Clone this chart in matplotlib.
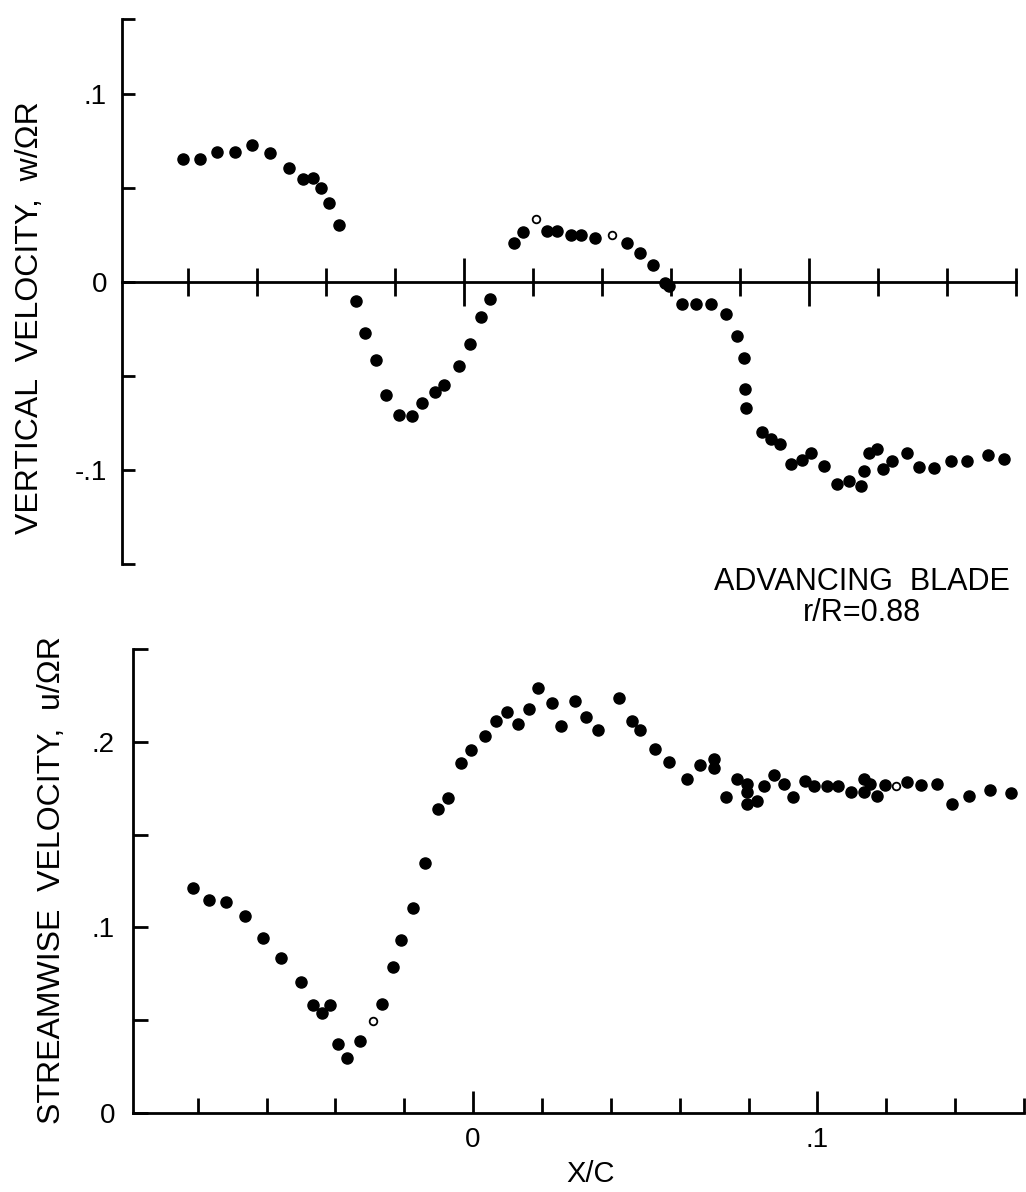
import numpy as np
import matplotlib.pyplot as plt

# vertical velocity w/OmegaR vs X/C (top panel)
w_x = [-0.0814, -0.0765, -0.0716, -0.0664, -0.0613, -0.0561, -0.0507, -0.0468, -0.0439, -0.0414,
       -0.0390, -0.0361, -0.0313, -0.0288, -0.0255, -0.0226, -0.0188, -0.0151, -0.0122, -0.0085,
       -0.0058, -0.0014, 0.0017, 0.0050, 0.0075, 0.0145, 0.0172,
       0.0241, 0.0270, 0.0309, 0.0339, 0.0379,
       0.0472, 0.0510, 0.0548, 0.0582, 0.0594,
       0.0633, 0.0673, 0.0716, 0.0758, 0.0791,
       0.0812, 0.0814, 0.0817,
       0.0864, 0.0889, 0.0916, 0.0947, 0.0981, 0.1007, 0.1042, 0.1081, 0.1116, 0.1151,
       0.1158, 0.1175, 0.1198, 0.1215, 0.1240, 0.1285, 0.1318, 0.1361, 0.1411, 0.1457,
       0.1520, 0.1566]
w_y = [0.0655, 0.0652, 0.0690, 0.0694, 0.0731, 0.0689, 0.0604, 0.0549, 0.0556, 0.0498,
       0.0422, 0.0301, -0.0103, -0.0272, -0.0417, -0.0600, -0.0706, -0.0711, -0.0641, -0.0584,
       -0.0550, -0.0445, -0.0330, -0.0188, -0.0089, 0.0207, 0.0265,
       0.0274, 0.0272, 0.0251, 0.0250, 0.0234,
       0.0208, 0.0153, 0.0090, -0.0005, -0.0022,
       -0.0116, -0.0118, -0.0119, -0.0170, -0.0285,
       -0.0403, -0.0570, -0.0669,
       -0.0797, -0.0834, -0.0862, -0.0966, -0.0944, -0.0911, -0.0976, -0.1073, -0.1058, -0.1086,
       -0.1006, -0.0911, -0.0886, -0.0992, -0.0952, -0.0908, -0.0982, -0.0988, -0.0950, -0.0954,
       -0.0918, -0.0941]
w_open_x = [0.0209, 0.0428]
w_open_y = [0.0336, 0.0248]

# streamwise velocity u/OmegaR vs X/C (bottom panel)
u_x = [-0.0813, -0.0767, -0.0717, -0.0664, -0.0611, -0.0557, -0.0501, -0.0464, -0.0440, -0.0415,
       -0.0392, -0.0366, -0.0330, -0.0266, -0.0234, -0.0209, -0.0175, -0.0140, -0.0103, -0.0072,
       -0.0035, -0.0007, 0.0034, 0.0067, 0.0099, 0.0129, 0.0161, 0.0188, 0.0228, 0.0256,
       0.0296, 0.0328, 0.0363, 0.0423, 0.0462, 0.0486, 0.0528, 0.0570, 0.0622, 0.0658,
       0.0701, 0.0699, 0.0735, 0.0767, 0.0795, 0.0795, 0.0795, 0.0826, 0.0846, 0.0874,
       0.0904, 0.0930, 0.0964, 0.0991, 0.1027, 0.1061, 0.1098, 0.1136, 0.1136, 0.1153,
       0.1172, 0.1196, 0.1259, 0.1301, 0.1346, 0.1390, 0.1440, 0.1501, 0.1563]
u_y = [0.1214, 0.1149, 0.1135, 0.1063, 0.0940, 0.0834, 0.0703, 0.0584, 0.0540, 0.0584,
       0.0373, 0.0295, 0.0388, 0.0585, 0.0789, 0.0934, 0.1104, 0.1345, 0.1640, 0.1696,
       0.1886, 0.1954, 0.2030, 0.2110, 0.2160, 0.2096, 0.2176, 0.2288, 0.2206, 0.2087,
       0.2222, 0.2132, 0.2064, 0.2237, 0.2110, 0.2062, 0.1963, 0.1890, 0.1800, 0.1872,
       0.1906, 0.1856, 0.1700, 0.1800, 0.1772, 0.1731, 0.1665, 0.1682, 0.1762, 0.1820,
       0.1771, 0.1703, 0.1789, 0.1762, 0.1760, 0.1760, 0.1728, 0.1801, 0.1727, 0.1772,
       0.1708, 0.1765, 0.1781, 0.1766, 0.1772, 0.1663, 0.1706, 0.1741, 0.1723]
u_open_x = [-0.0290, 0.1227]
u_open_y = [0.0494, 0.1761]

x_major = [0, 0.1]
x_minor = [-0.08, -0.06, -0.04, -0.02, 0.02, 0.04, 0.06, 0.08, 0.12, 0.14, 0.16]
x_major_labels = ['0', '.1']

w_ticks = [-0.1, 0, 0.1]
w_tick_labels = ['-.1', '0', '.1']
w_minor = [-0.15, -0.05, 0.05, 0.14]

u_ticks = [0, 0.1, 0.2]
u_tick_labels = ['0', '.1', '.2']
u_minor = [0.05, 0.15, 0.25]

plt.rcParams['font.family'] = ['Liberation Sans', 'DejaVu Sans']
LW = 2.0
MS = 8


def dots(ax, x, y, ox, oy):
    ax.plot(x, y, 'o', color='black', ms=MS, ls='none', clip_on=False)
    ax.plot(ox, oy, 'o', mfc='white', mec='black', mew=1.3, ms=5.5, ls='none', clip_on=False)


def main():
    fig = plt.figure(figsize=(10.26, 11.92), dpi=100)

    # top panel, vertical velocity
    ax1 = fig.add_axes([0.1193, 0.5268, 0.8710, 0.4574])
    dots(ax1, w_x, w_y, w_open_x, w_open_y)
    ax1.set_xlim(-0.099, 0.16)
    ax1.set_ylim(-0.15, 0.14)
    for s in ['top', 'right']:
        ax1.spines[s].set_visible(False)
    ax1.spines['bottom'].set_position(('data', 0))
    ax1.spines['left'].set_linewidth(LW)
    ax1.spines['bottom'].set_linewidth(LW)
    ax1.set_xticks(x_major)
    ax1.set_xticks(x_minor, minor=True)
    ax1.set_xticklabels([])
    ax1.tick_params(axis='x', which='major', direction='inout', length=34, width=LW)
    ax1.tick_params(axis='x', which='minor', direction='inout', length=20, width=LW)
    ax1.set_yticks(w_ticks)
    ax1.set_yticklabels(w_tick_labels)
    ax1.set_yticks(w_minor, minor=True)
    ax1.tick_params(axis='y', which='both', direction='in', length=9.5, width=LW,
                    labelsize=20, pad=11)

    # bottom panel, streamwise velocity
    ax2 = fig.add_axes([0.1296, 0.0663, 0.8684, 0.3893])
    dots(ax2, u_x, u_y, u_open_x, u_open_y)
    ax2.set_xlim(-0.0988, 0.16)
    ax2.set_ylim(0, 0.25)
    for s in ['top', 'right']:
        ax2.spines[s].set_visible(False)
    ax2.spines['left'].set_linewidth(LW)
    ax2.spines['bottom'].set_linewidth(LW)
    ax2.set_xticks(x_major)
    ax2.set_xticklabels(x_major_labels)
    ax2.set_xticks(x_minor, minor=True)
    ax2.tick_params(axis='x', which='major', direction='in', length=16, width=LW,
                    labelsize=20, pad=10)
    ax2.tick_params(axis='x', which='minor', direction='in', length=11, width=LW)
    ax2.set_yticks(u_ticks)
    ax2.set_yticklabels(u_tick_labels)
    ax2.set_yticks(u_minor, minor=True)
    ax2.tick_params(axis='y', which='both', direction='in', length=11, width=LW,
                    labelsize=20, pad=13)

    fig.text(30 / 1026, 1 - 318 / 1192, 'VERTICAL  VELOCITY,  w/\u03a9R', rotation=90,
             ha='center', va='center', fontsize=23)
    fig.text(52 / 1026, 1 - 880 / 1192, 'STREAMWISE  VELOCITY,  u/\u03a9R', rotation=90,
             ha='center', va='center', fontsize=23)
    fig.text(591 / 1026, 1 - 1174 / 1192, 'X/C', ha='center', va='center', fontsize=21)
    fig.text(862 / 1026, 1 - 582 / 1192, 'ADVANCING  BLADE', ha='center', va='center', fontsize=22)
    fig.text(862 / 1026, 1 - 613 / 1192, 'r/R=0.88', ha='center', va='center', fontsize=22)

    fig.savefig('out.png', dpi=100)


if __name__ == '__main__':
    main()
